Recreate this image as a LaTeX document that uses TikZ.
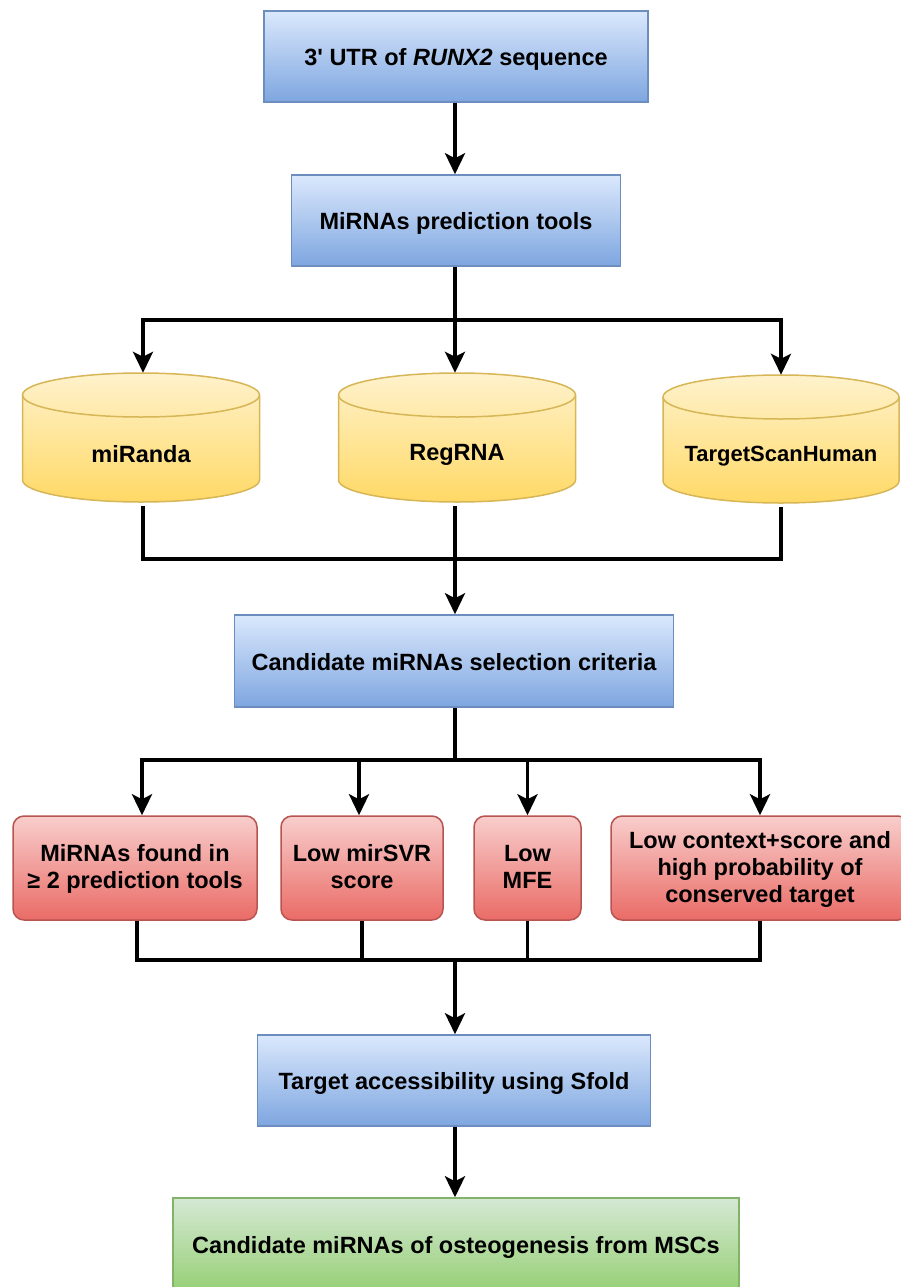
\documentclass[tikz,border=0pt]{standalone}
\usepackage{fontspec}
\setmainfont{Liberation Sans}
\newfontfamily\nolig{Liberation Sans}
\usetikzlibrary{arrows.meta,calc}
\definecolor{bluetop}{HTML}{DAE8FC}
\definecolor{bluebot}{HTML}{7EA6E0}
\definecolor{blueborder}{HTML}{6C8EBF}
\definecolor{yeltop}{HTML}{FFF2CC}
\definecolor{yelbot}{HTML}{FFD966}
\definecolor{yelborder}{HTML}{D6B656}
\definecolor{redtop}{HTML}{F8CECC}
\definecolor{redbot}{HTML}{EA6B66}
\definecolor{redborder}{HTML}{B85450}
\definecolor{greentop}{HTML}{D5E8D4}
\definecolor{greenbot}{HTML}{97D077}
\definecolor{greenborder}{HTML}{82B366}
\newcommand\low[2]{\raisebox{-#1pt}[\height][\depth]{#2}}
\tikzset{
  lbl/.style={font=\bfseries\fontsize{23.5}{27}\selectfont, align=center, text=black},
  bluebox/.style={lbl, rectangle, draw=blueborder, line width=1.5pt, top color=bluetop, bottom color=bluebot, inner sep=0pt},
  redbox/.style={lbl, rectangle, rounded corners=11pt, draw=redborder, line width=1.5pt, top color=redtop, bottom color=redbot, inner sep=0pt, minimum height=104pt},
  greenbox/.style={lbl, rectangle, draw=greenborder, line width=1.5pt, top color=greentop, bottom color=greenbot, inner sep=0pt},
  cylbody/.style={draw=yelborder, line width=1.5pt, top color=yeltop, bottom color=yelbot},
  cylanchor/.style={rectangle, inner sep=0pt, draw=none},
  conn/.style={line width=3.5pt, black, line join=miter},
  arr/.style={conn, -{Stealth[length=21pt,width=20pt,inset=5pt]}}
}
% \dbcyl{name}{cx}{cy}{w}{h}{text}{fontsize}
\newcommand\dbcyl[7]{%
  \pgfmathsetmacro\cxl{#2-#4/2}%
  \pgfmathsetmacro\cxr{#2+#4/2}%
  \pgfmathsetmacro\cyt{#3-#5/2+22}%
  \pgfmathsetmacro\cyb{#3+#5/2-22}%
  \pgfmathsetmacro\crx{#4/2}%
  \path[cylbody] (\cxl,\cyt) -- (\cxl,\cyb) arc[start angle=180,end angle=0,x radius=\crx,y radius=22] -- (\cxr,\cyt) arc[start angle=0,end angle=-180,x radius=\crx,y radius=22] -- cycle;
  \draw[draw=yelborder, line width=1.5pt] (\cxl,\cyt) arc[start angle=180,end angle=0,x radius=\crx,y radius=22];
  \node[cylanchor, minimum width=#4pt, minimum height=#5pt] (#1) at (#2,#3) {};
  \node[lbl, font=\bfseries\fontsize{#7}{27}\selectfont] at ($(#1.center)+(0,17)$) {#6};
}
\begin{document}
\begin{tikzpicture}[x=1pt,y=-1pt]
\useasboundingbox (0,0) rectangle (900,1287);

% main column
\node[bluebox, minimum width=384pt, minimum height=91pt] (utr) at (456,56.5) {\low{3}{{\nolig\bfseries 3'} UTR of \textit{RUNX2} sequence}};
\node[bluebox, minimum width=329pt, minimum height=91pt] (tools) at (456,220.5) {\low{3}{MiRNAs prediction tools}};

\dbcyl{miranda}{141}{437.5}{237}{129}{miRanda}{23.5}
\dbcyl{regrna}{457}{437.5}{237}{129}{RegRNA}{23.5}
\dbcyl{tsh}{781}{439}{236}{128}{TargetScanHuman}{22}

\node[bluebox, minimum width=439pt, minimum height=92pt] (crit) at (454,661) {\low{1}{Candidate miRNAs selection criteria}};

\node[redbox, minimum width=244pt] (found) at (135,868) {\low{2}{\begin{tabular}{@{}c@{}}MiRNAs found in\\≥ 2 prediction tools\end{tabular}}};
\node[redbox, minimum width=162pt] (svr) at (362,868) {\low{2}{\begin{tabular}{@{}c@{}}Low mirSVR\\score\end{tabular}}};
\node[redbox, minimum width=107pt] (mfe) at (527.5,868) {\low{2}{\begin{tabular}{@{}c@{}}Low\\MFE\end{tabular}}};
\node[redbox, minimum width=298pt] (ctx) at (760,868) {\low{2}{\begin{tabular}{@{}c@{}}Low context+score and\\high probability of\\conserved target\end{tabular}}};

\node[bluebox, minimum width=393pt, minimum height=91pt] (sfold) at (454,1080.5) {\low{3}{Target accessibility using Sfold}};
\node[greenbox, minimum width=566pt, minimum height=92pt] (cand) at (456,1244) {\low{3}{Candidate miRNAs of osteogenesis from MSCs}};

% connectors
\coordinate (b1) at (455,320);
\coordinate (m1) at (455,559);
\coordinate (b2) at (455,760);
\coordinate (m2) at (455,960);

\draw[arr] (utr.south -| b1) -- (tools.north -| b1);
\draw[conn] (tools.south -| b1) -- (b1);
\draw[arr] (b1) -| ([xshift=2pt]miranda.north);
\draw[arr] (b1) -- (regrna.north -| b1);
\draw[arr] (b1) -| (tsh.north);

\draw[conn] ([xshift=2pt,yshift=-4pt]miranda.south) |- (m1);
\draw[conn] ([yshift=-4pt]tsh.south) |- (m1);
\draw[arr] ([yshift=-4pt]regrna.south -| m1) -- (crit.north -| m1);

\draw[conn] (crit.south -| b2) -- (b2);
\draw[arr] (b2) -| ([xshift=7pt]found.north);
\draw[arr] (b2) -| ([xshift=-3pt]svr.north);
\draw[arr] (b2) -| (mfe.north);
\draw[arr] (b2) -| (ctx.north);

\draw[conn] ([xshift=2pt]found.south) |- (m2);
\draw[conn] (ctx.south) |- (m2);
\draw[conn] (svr.south) -- (svr.south |- m2);
\draw[conn] (mfe.south) -- (mfe.south |- m2);
\draw[arr] (m2) -- (sfold.north -| m2);

\draw[arr] (sfold.south -| m2) -- (cand.north -| m2);
\end{tikzpicture}
\end{document}
